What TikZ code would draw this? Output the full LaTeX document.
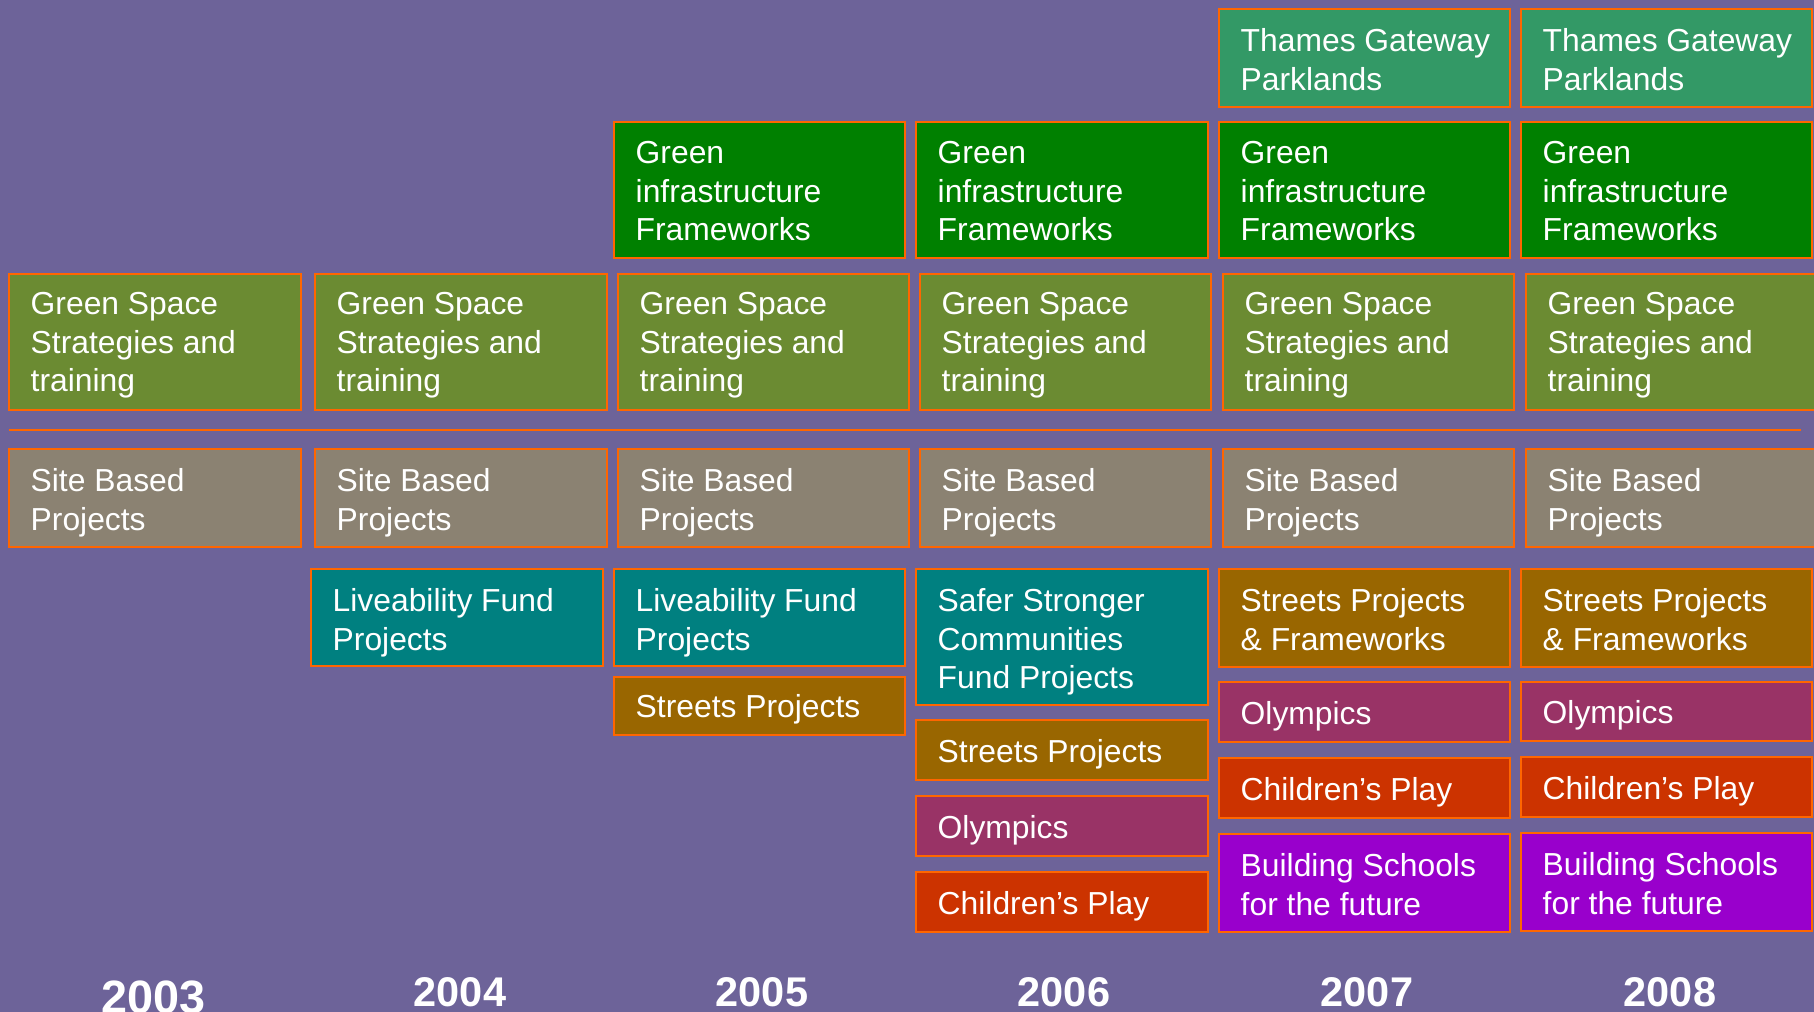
\documentclass[tikz,border=0pt]{standalone}
\usepackage{fontspec}
\setmainfont{Liberation Sans}
\usetikzlibrary{positioning}

\definecolor{bgpurple}{RGB}{109,99,153}
\definecolor{edgeorange}{RGB}{255,102,0}
\definecolor{gsscol}{RGB}{107,139,50}
\definecolor{sitecol}{RGB}{139,130,114}
\definecolor{gifcol}{RGB}{0,128,0}
\definecolor{thamescol}{RGB}{51,153,102}
\definecolor{fundcol}{RGB}{0,128,128}
\definecolor{streetcol}{RGB}{153,102,0}
\definecolor{olympcol}{RGB}{153,51,102}
\definecolor{playcol}{RGB}{204,51,0}
\definecolor{schoolcol}{RGB}{153,0,204}

\begin{document}
\begin{tikzpicture}[x=0.01cm, y=-0.01cm,
    box/.style={draw=edgeorange, line width=0.55pt},
    lbl/.style={anchor=north west, inner sep=0pt, align=left, text=white,
        font=\fontsize{9.05}{10.95}\selectfont},
    year/.style={anchor=base, text=white,
        font=\bfseries\fontsize{11.8}{14}\selectfont}]

        \useasboundingbox (0,0) rectangle (1814,1012);
        \fill[bgpurple] (0,0) rectangle (1814,1012);

        \draw[box, fill=thamescol] (1219,9) rectangle (1510,107);
        \draw[box, fill=thamescol] (1521,9) rectangle (1812,107);
        \node[lbl] (tgp07) at (1240,28) {Thames Gateway\\Parklands};
        \node[lbl] (tgp08) at (1542,28) {Thames Gateway\\Parklands};

        \draw[box, fill=gifcol] (614,122) rectangle (905,258);
        \draw[box, fill=gifcol] (916,122) rectangle (1208,258);
        \draw[box, fill=gifcol] (1219,122) rectangle (1510,258);
        \draw[box, fill=gifcol] (1521,122) rectangle (1812,258);
        \node[lbl] (gif05) at (635,141) {Green\\infrastructure\\Frameworks};
        \node[lbl] (gif06) at (937,141) {Green\\infrastructure\\Frameworks};
        \node[lbl] (gif07) at (1240,141) {Green\\infrastructure\\Frameworks};
        \node[lbl] (gif08) at (1542,141) {Green\\infrastructure\\Frameworks};

        \draw[box, fill=gsscol] (9,274) rectangle (301,410);
        \draw[box, fill=gsscol] (315,274) rectangle (607,410);
        \draw[box, fill=gsscol] (618,274) rectangle (909,410);
        \draw[box, fill=gsscol] (920,274) rectangle (1211,410);
        \draw[box, fill=gsscol] (1223,274) rectangle (1514,410);
        \draw[box, fill=gsscol] (1526,274) rectangle (1818,410);
        \node[lbl] (gss03) at (30,292) {Green Space\\Strategies and\\training};
        \node[lbl] (gss04) at (336,292) {Green Space\\Strategies and\\training};
        \node[lbl] (gss05) at (639,292) {Green Space\\Strategies and\\training};
        \node[lbl] (gss06) at (941,292) {Green Space\\Strategies and\\training};
        \node[lbl] (gss07) at (1244,292) {Green Space\\Strategies and\\training};
        \node[lbl] (gss08) at (1547,292) {Green Space\\Strategies and\\training};

        \draw[edgeorange, line width=0.55pt] (9,430) -- (1801,430);

        \draw[box, fill=sitecol] (9,449) rectangle (301,547);
        \draw[box, fill=sitecol] (315,449) rectangle (607,547);
        \draw[box, fill=sitecol] (618,449) rectangle (909,547);
        \draw[box, fill=sitecol] (920,449) rectangle (1211,547);
        \draw[box, fill=sitecol] (1223,449) rectangle (1514,547);
        \draw[box, fill=sitecol] (1526,449) rectangle (1818,547);
        \node[lbl] (site03) at (30,468) {Site Based\\Projects};
        \node[lbl] (site04) at (336,468) {Site Based\\Projects};
        \node[lbl] (site05) at (639,468) {Site Based\\Projects};
        \node[lbl] (site06) at (941,468) {Site Based\\Projects};
        \node[lbl] (site07) at (1244,468) {Site Based\\Projects};
        \node[lbl] (site08) at (1547,468) {Site Based\\Projects};

        \draw[box, fill=fundcol] (311,569) rectangle (603,666);
        \node[lbl] (live04) at (332,588) {Liveability Fund\\Projects};

        \draw[box, fill=fundcol] (614,569) rectangle (905,666);
        \draw[box, fill=streetcol] (614,677) rectangle (905,735);
        \node[lbl] (live05) at (635,588) {Liveability Fund\\Projects};
        \node[lbl] (street05) at (635,694) {Streets Projects};

        \draw[box, fill=fundcol] (916,569) rectangle (1208,705);
        \draw[box, fill=streetcol] (916,720) rectangle (1208,780);
        \draw[box, fill=olympcol] (916,796) rectangle (1208,856);
        \draw[box, fill=playcol] (916,872) rectangle (1208,932);
        \node[lbl] (safer06) at (937,588) {Safer Stronger\\Communities\\Fund Projects};
        \node[lbl] (street06) at (937,739) {Streets Projects};
        \node[lbl] (olymp06) at (937,815) {Olympics};
        \node[lbl] (play06) at (937,891) {Children’s Play};

        \draw[box, fill=streetcol] (1219,569) rectangle (1510,667);
        \draw[box, fill=olympcol] (1219,682) rectangle (1510,742);
        \draw[box, fill=playcol] (1219,758) rectangle (1510,818);
        \draw[box, fill=schoolcol] (1219,834) rectangle (1510,932);
        \node[lbl] (street07) at (1240,588) {Streets Projects\\\& Frameworks};
        \node[lbl] (olymp07) at (1240,701) {Olympics};
        \node[lbl] (play07) at (1240,777) {Children’s Play};
        \node[lbl] (school07) at (1240,853) {Building Schools\\for the future};

        \draw[box, fill=streetcol] (1521,569) rectangle (1812,667);
        \draw[box, fill=olympcol] (1521,682) rectangle (1812,741);
        \draw[box, fill=playcol] (1521,757) rectangle (1812,817);
        \draw[box, fill=schoolcol] (1521,833) rectangle (1812,931);
        \node[lbl] (street08) at (1542,588) {Streets Projects\\\& Frameworks};
        \node[lbl] (olymp08) at (1542,700) {Olympics};
        \node[lbl] (play08) at (1542,776) {Children’s Play};
        \node[lbl] (school08) at (1542,852) {Building Schools\\for the future};

        \node[year, font=\bfseries\fontsize{13.3}{15}\selectfont] (yr03) at (154,1013) {2003};
        \node[year] (yr04) at (460,1006) {2004};
        \node[year] (yr05) at (762,1006) {2005};
        \node[year] (yr06) at (1064,1006) {2006};
        \node[year] (yr07) at (1367,1006) {2007};
        \node[year] (yr08) at (1670,1006) {2008};

        \end{tikzpicture}
\end{document}
